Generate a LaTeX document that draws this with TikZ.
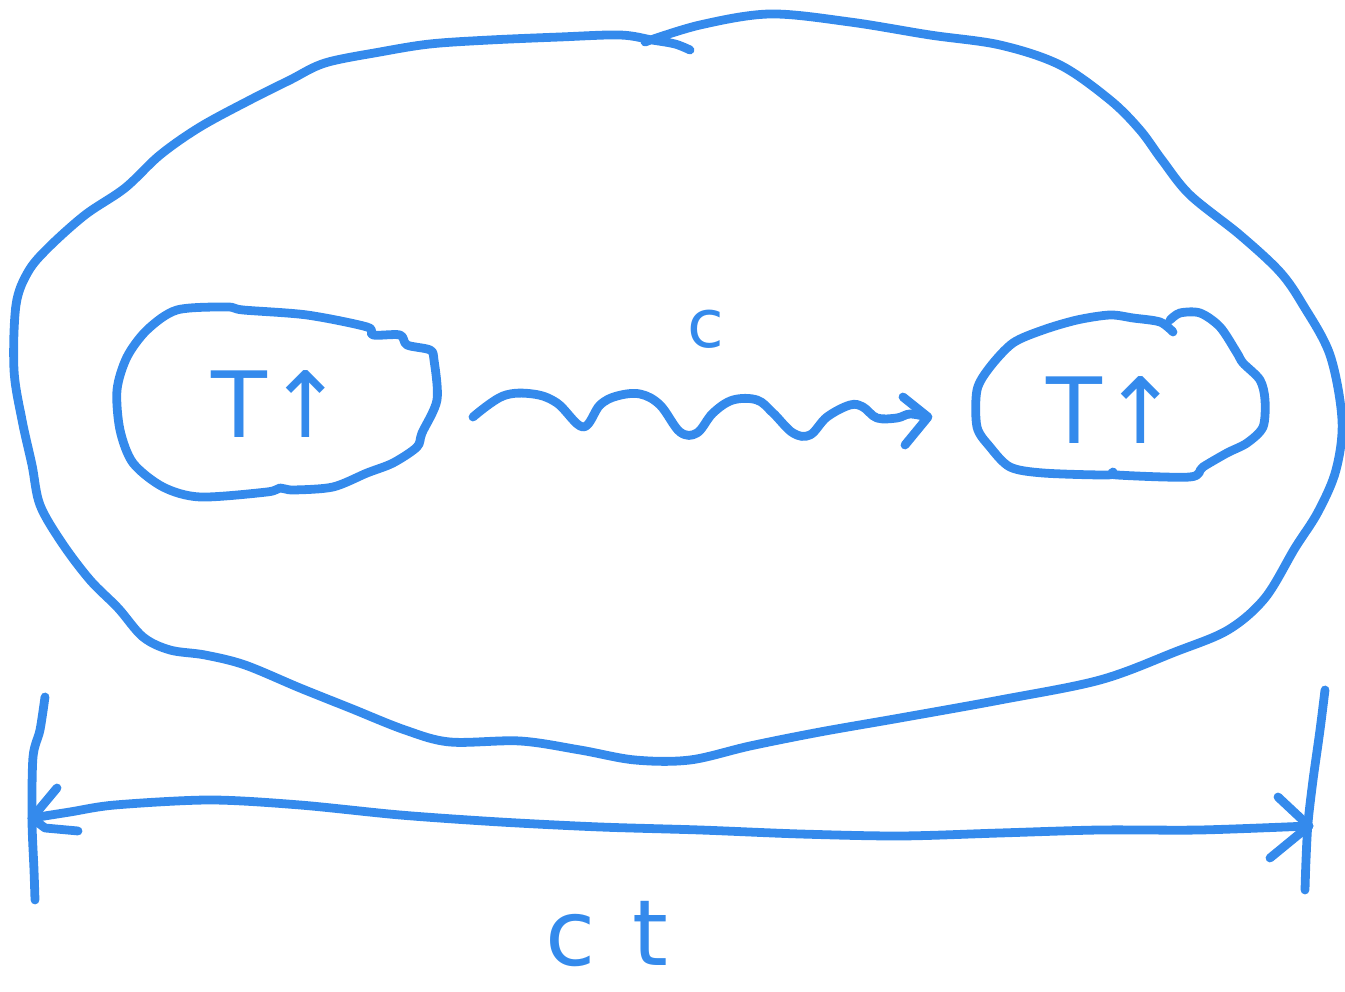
\documentclass[tikz,border=0pt]{standalone}
\usepackage{fontspec}
\setmainfont{DejaVu Sans}
\definecolor{penblue}{RGB}{52,138,236}
\begin{document}
\begin{tikzpicture}[x=0.01cm,y=-0.01cm,
  pen/.style={draw=penblue, line width=2.5pt, line cap=round, line join=round},
  lbl/.style={text=penblue, inner sep=0pt, anchor=base}]
\useasboundingbox (0,0) rectangle (1345,992);
% big outline
\draw[pen] plot[smooth, tension=0.55] coordinates {
 (645,42) (700,25) (770,14) (850,22) (930,35) (1000,45) (1060,65) (1110,100)
 (1140,130) (1162,160) (1190,195) (1240,235) (1280,272) (1303,305) (1330,355)
 (1342,420) (1336,470) (1318,512) (1295,548) (1265,598) (1228,630) (1175,652)
 (1100,680) (1000,700) (900,718) (820,732) (750,746) (690,760) (635,760)
 (580,750) (520,741) (450,742) (405,730) (350,708) (300,688) (245,665)
 (205,655) (170,650) (143,637) (118,608) (90,580) (62,543) (40,505) (32,465)
 (22,420) (14,370) (16,305) (28,272) (48,248) (85,215) (125,188) (160,155)
 (200,127) (250,100) (290,80) (325,63) (380,52) (430,44) (490,40) (560,37)
 (620,35) (652,40) (675,44) (690,50)};
% left small outline
\draw[pen] plot[smooth cycle, tension=0.5] coordinates {
 (177,310) (227,307) (243,310) (307,315) (367,327) (373,335) (400,335)
 (407,345) (430,350) (434,360) (437,400) (422,433) (417,447) (393,463)
 (367,473) (333,487) (293,490) (280,488) (267,492) (200,497) (163,487)
 (133,463) (120,430) (117,390) (127,357) (147,330)};
\node[lbl, font=\fontsize{26}{28}\selectfont] (tl) at (278,438) {T↑};
% right small outline
\draw[pen] plot[smooth, tension=0.5] coordinates {
 (1173,332) (1160,322) (1133,318) (1110,315) (1077,320) (1043,330) (1013,343)
 (990,367) (977,390) (977,427) (990,447) (1010,467) (1043,473) (1107,475)
 (1113,472) (1117,475) (1190,477) (1203,467) (1227,453) (1247,443)
 (1263,427) (1265,400) (1260,380) (1243,363) (1237,353) (1220,327)
 (1200,313) (1180,313) (1170,320)};
\node[lbl, font=\fontsize{26}{28}\selectfont] (tr) at (1113,444) {T↑};
% wavy arrow
\draw[pen] plot[smooth, tension=0.6] coordinates {
 (473,417) (503,396) (533,394) (557,403) (583,427) (600,405) (617,396)
 (640,394) (660,405) (680,432) (697,433) (713,413) (733,400) (757,400)
 (773,413) (793,433) (810,435) (827,417) (850,405) (863,407) (877,418)
 (897,418) (910,414) (927,417)};
\coordinate (wt) at (928,417);
\draw[pen] (903,397) -- (wt) -- (905,445);
\node[lbl, font=\fontsize{19}{21}\selectfont] (c) at (706,348) {c};
% dimension line
\draw[pen] plot[smooth, tension=0.5] coordinates {(45,697) (40,730) (33,757) (32,820) (34,870) (35,900)};
\draw[pen] plot[smooth, tension=0.5] coordinates {(1325,690) (1320,730) (1313,780) (1308,823) (1306,860) (1305,890)};
\coordinate (dl) at (32,818);
\coordinate (dr) at (1309,826);
\draw[pen] plot[smooth, tension=0.5] coordinates {(dl) (70,812) (115,805) (210,800) (300,805) (400,815) (500,822) (600,827) (700,830) (800,834) (900,836) (1000,833) (1100,830) (1200,830) (dr)};
\draw[pen] (57,788) -- (dl) -- (45,828) -- (78,831);
\draw[pen] (1278,797) -- (dr) -- (1270,858);
\node[lbl, font=\fontsize{26}{28}\selectfont] (ct) at (607,966) {c\hspace{0.4em}t};
\end{tikzpicture}
\end{document}
